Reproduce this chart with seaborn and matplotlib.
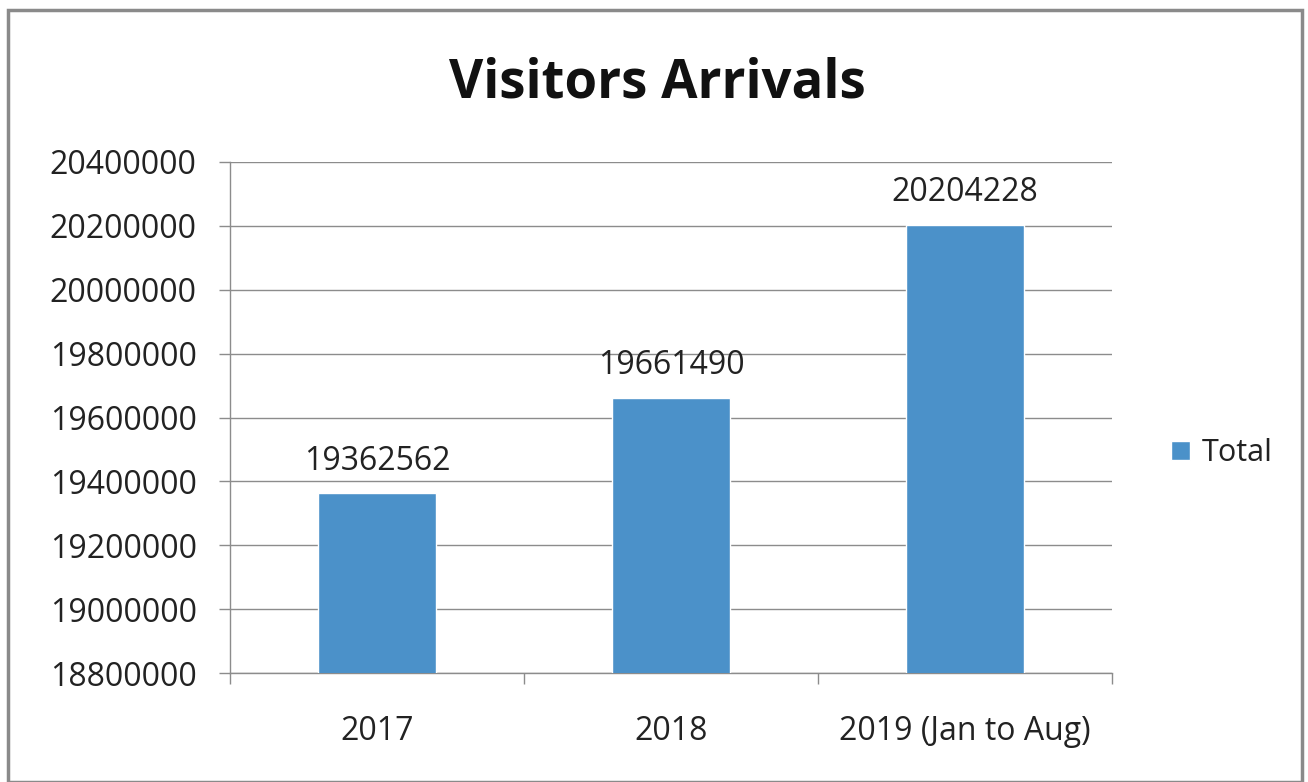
import matplotlib
matplotlib.use('Agg')
import matplotlib.pyplot as plt
import seaborn as sns
import pandas as pd
from matplotlib.patches import Rectangle

# ─── Data ─────────────────────────────────────────────────────────────────────
years  = ['2017', '2018', '2019 (Jan to Aug)']
totals = [19362562, 19661490, 20204228]
y_ticks = [18800000, 19000000, 19200000, 19400000, 19600000,
           19800000, 20000000, 20200000, 20400000]

BAR_COLOUR = '#4b91c9'
GRID_COLOUR = '#8c8c8c'
TEXT_COLOUR = '#222222'

sns.set_theme(style='white')
plt.rcParams['font.family'] = ['Open Sans', 'DejaVu Sans']

df = pd.DataFrame({'year': years, 'total': totals})

fig = plt.figure(figsize=(13.08, 7.82), dpi=100)
ax = fig.add_axes([230 / 1308, 1 - 673 / 782, 882 / 1308, 511 / 782])

sns.barplot(data=df, x='year', y='total', color=BAR_COLOUR, width=0.4,
            saturation=1, ax=ax, label='Total', zorder=3)

ax.set_ylim(y_ticks[0], y_ticks[-1])
ax.set_xlim(-0.5, len(years) - 0.5)
ax.set_yticks(y_ticks)
ax.set_yticklabels([str(v) for v in y_ticks], fontsize=23, color=TEXT_COLOUR)
ax.tick_params(axis='y', length=8, width=1, color=GRID_COLOUR, pad=16, left=True)
ax.tick_params(axis='x', which='major', length=0, pad=30, labelsize=23,
               labelcolor=TEXT_COLOUR)
ax.set_xticks([i + 0.5 for i in range(-1, len(years))], minor=True)
ax.tick_params(axis='x', which='minor', length=8, width=1, color=GRID_COLOUR,
               bottom=True)
ax.yaxis.grid(True, color=GRID_COLOUR, linewidth=1, zorder=0)
ax.set_xlabel('')
ax.set_ylabel('')
for side in ['top', 'right']:
    ax.spines[side].set_visible(False)
for side in ['left', 'bottom']:
    ax.spines[side].set_color(GRID_COLOUR)
    ax.spines[side].set_linewidth(1)

# value labels above the bars
for i, v in enumerate(totals):
    ax.annotate(str(v), (i, v), xytext=(0, 23), textcoords='offset points',
                ha='center', va='center', fontsize=23, color=TEXT_COLOUR)

fig.text(657 / 1308, 1 - 83 / 782, 'Visitors Arrivals', ha='center',
         va='center', fontsize=38, fontweight='bold', color='#111111')

ax.legend(loc='center left', bbox_to_anchor=(1.036, 0.43), frameon=False,
          fontsize=22, handlelength=0.6, handleheight=0.6, handletextpad=0.4,
          labelcolor=TEXT_COLOUR)

# outer chart border
fig.patches.append(Rectangle((8 / 1308, 0), 1294 / 1308, 1 - 10 / 782,
                             transform=fig.transFigure, fill=False,
                             edgecolor='#8a8a8a', linewidth=2.5))

fig.savefig('out.png', dpi=100)
plt.close(fig)
